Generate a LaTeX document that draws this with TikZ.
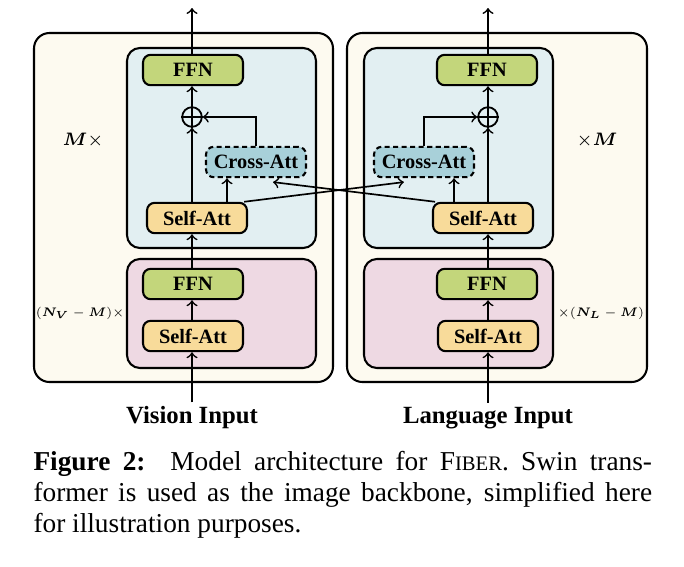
\documentclass[tikz,border=0pt]{standalone}
\usepackage{amsmath}
\usepackage{fontspec}
\setmainfont{Liberation Serif}
\definecolor{outercream}{HTML}{FDFAF0}
\definecolor{innerblue}{HTML}{E2EFF2}
\definecolor{innerpink}{HTML}{EED9E3}
\definecolor{ffngreen}{HTML}{C3D67B}
\definecolor{attyellow}{HTML}{F8DB9A}
\definecolor{crossblue}{HTML}{A8D0D9}
\tikzset{
  blk/.style={draw,line width=0.8pt,rounded corners=3pt,minimum width=38.8pt,minimum height=11.8pt,inner sep=0pt,font=\fontsize{7.9}{8}\selectfont\bfseries},
  ffnbox/.style={blk,fill=ffngreen},
  attbox/.style={blk,fill=attyellow},
  crossbox/.style={blk,fill=crossblue,dash pattern=on 2pt off 1.3pt},
  outerbox/.style={draw,line width=0.8pt,fill=outercream,rounded corners=6pt},
  bluebox/.style={draw,line width=0.8pt,fill=innerblue,rounded corners=5pt},
  pinkbox/.style={draw,line width=0.8pt,fill=innerpink,rounded corners=5pt},
  plusnode/.style={draw,circle,line width=0.7pt,minimum size=7.6pt,inner sep=0pt},
  arr/.style={->,line width=0.65pt},
  inlabel/.style={font=\fontsize{9.6}{10}\selectfont\bfseries,inner sep=1.5pt},
  mlabel/.style={font=\fontsize{7}{8}\selectfont},
  nlabel/.style={font=\fontsize{6}{7}\selectfont},
}
\begin{document}
\begin{tikzpicture}[x=0.388pt,y=-0.388pt]
\useasboundingbox (0,0) rectangle (684,566);
%containers
\draw[outerbox] (34,33) rectangle (333,382);
\draw[outerbox] (347,33) rectangle (647,382);
\draw[bluebox] (127,48) rectangle (316,248);
\draw[bluebox] (364,48) rectangle (553,248);
\draw[pinkbox] (127,259) rectangle (316,368);
\draw[pinkbox] (364,259) rectangle (553,368);
%vision side
\node[ffnbox] (ffnV) at (193,70) {FFN};
\node[plusnode] (plusV) at (192,117) {};
\draw[line width=0.6pt] (plusV.north)--(plusV.south) (plusV.west)--(plusV.east);
\node[crossbox] (caV) at (256,162) {Cross-Att};
\node[attbox] (saV) at (197,218) {Self-Att};
\node[ffnbox] (ffnVb) at (193,284) {FFN};
\node[attbox] (saVb) at (193,336) {Self-Att};
\node[inlabel] (inV) at (192,418) {Vision Input};
%language side
\node[ffnbox] (ffnL) at (487,70) {FFN};
\node[plusnode] (plusL) at (488,117) {};
\draw[line width=0.6pt] (plusL.north)--(plusL.south) (plusL.west)--(plusL.east);
\node[crossbox] (caL) at (424,162) {Cross-Att};
\node[attbox] (saL) at (483,218) {Self-Att};
\node[ffnbox] (ffnLb) at (487,284) {FFN};
\node[attbox] (saLb) at (488,336) {Self-Att};
\node[inlabel] (inL) at (488,418) {Language Input};
\coordinate (outV) at (192,8);
\coordinate (outL) at (488,8);
\coordinate (xV) at (227,0);
\coordinate (xL) at (454,0);
%repeat counts
\node[mlabel] (mV) at (83,140) {$\boldsymbol{M}\times$};
\node[mlabel] (mL) at (597,140) {$\times\boldsymbol{M}$};
\node[nlabel] (nV) at (80,313) {\scalebox{0.8}{$(\boldsymbol{N_V}-\boldsymbol{M})\times$}};
\node[nlabel] (nL) at (601,313) {\scalebox{0.8}{$\times(\boldsymbol{N_L}-\boldsymbol{M})$}};
%arrows
\draw[arr] (ffnV.north -| outV) -- (outV);
\draw[arr] (ffnL.north -| outL) -- (outL);
\draw[arr] (plusV.north) -- (plusV.north |- ffnV.south);
\draw[arr] (plusL.north) -- (plusL.north |- ffnL.south);
\draw[arr] (saV.north -| plusV) -- (plusV.south);
\draw[arr] (saL.north -| plusL) -- (plusL.south);
\draw[arr] (saV.north -| xV) -- (caV.south -| xV);
\draw[arr] (saL.north -| xL) -- (caL.south -| xL);
\draw[arr] (caV.north) |- (plusV.east);
\draw[arr] (caL.north) |- (plusL.west);
\draw[arr] ([xshift=-1.5pt]saV.north east) -- ([xshift=12pt,yshift=-1.5pt]caL.south west);
\draw[arr] ([xshift=1.2pt]saL.north west) -- ([xshift=-13.2pt,yshift=-1.5pt]caV.south east);
\draw[arr] (ffnVb.north -| plusV) -- (saV.south -| plusV);
\draw[arr] (ffnLb.north -| plusL) -- (saL.south -| plusL);
\draw[arr] (saVb.north -| plusV) -- (ffnVb.south -| plusV);
\draw[arr] (saLb.north -| plusL) -- (ffnLb.south -| plusL);
\draw[arr] (inV.north) -- (saVb.south -| inV);
\draw[arr] (inL.north) -- (saLb.south -| inL);
%caption
\node[anchor=north west,inner sep=0pt,text width=240pt,align=justify,font=\fontsize{10.6}{12}\selectfont] (cap) at (33,451)
{\textbf{Figure 2:}\ \ Model architecture for F{\fontsize{8}{8}\selectfont IBER}. Swin trans-\linebreak former is used as the image backbone, simplified here\linebreak for illustration purposes.};
\end{tikzpicture}
\end{document}
